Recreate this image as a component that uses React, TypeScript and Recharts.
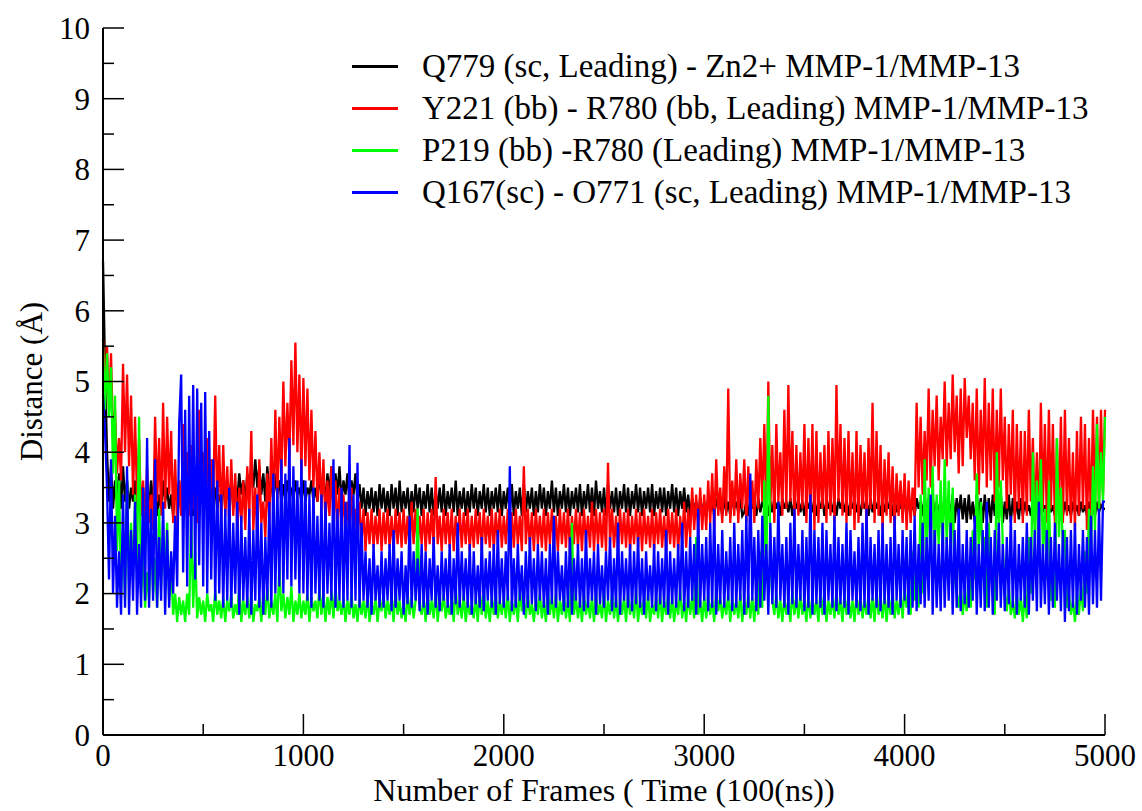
import { LineChart, Line, XAxis, YAxis } from 'recharts'

const SERIF = "'Liberation Serif', 'Times New Roman', Tinos, Times, 'DejaVu Serif', 'Noto Serif', serif"

// distance (Å) sampled every 10 frames, 0..5000 (20 values per row = 200 frames)
const q779Zn = [
  6.7, 5.2, 4.0, 3.3, 3.8, 3.2, 3.6, 3.3, 3.7, 3.2, 3.8, 3.3, 3.6, 3.2, 3.5, 3.3, 3.6, 3.2, 3.5, 3.3,
  3.5, 3.1, 3.4, 3.2, 3.6, 3.3, 3.5, 3.1, 3.4, 3.2, 3.6, 3.3, 3.5, 3.2, 3.4, 3.1, 3.5, 3.3, 3.6, 3.2,
  3.4, 3.2, 3.6, 3.3, 3.5, 3.1, 3.4, 3.2, 3.6, 3.3, 3.5, 3.2, 3.4, 3.1, 3.6, 3.3, 3.5, 3.2, 3.4, 3.3,
  3.6, 3.2, 3.5, 3.3, 3.6, 3.2, 3.5, 3.3, 3.7, 3.4, 3.6, 3.3, 3.7, 3.4, 3.8, 3.5, 3.9, 3.5, 3.8, 3.4,
  3.7, 3.3, 3.8, 3.4, 3.6, 3.3, 3.7, 3.4, 3.6, 3.3, 3.55, 3.3, 3.6, 3.4, 3.5, 3.3, 3.6, 3.4, 3.5, 3.3,
  3.6, 3.3, 3.5, 3.4, 3.6, 3.3, 3.5, 3.3, 3.7, 3.4, 3.6, 3.3, 3.7, 3.4, 3.8, 3.3, 3.7, 3.4, 3.8, 3.3,
  3.6, 3.4, 3.7, 3.3, 3.6, 3.4, 3.7, 3.3, 3.55, 3.2, 3.5, 3.1, 3.45, 3.2, 3.5, 3.15, 3.45, 3.1, 3.55, 3.2,
  3.5, 3.15, 3.45, 3.1, 3.55, 3.2, 3.5, 3.1, 3.6, 3.15, 3.45, 3.2, 3.5, 3.1, 3.45, 3.15, 3.55, 3.2, 3.5, 3.1,
  3.45, 3.2, 3.55, 3.15, 3.5, 3.1, 3.45, 3.2, 3.5, 3.15, 3.55, 3.1, 3.45, 3.2, 3.5, 3.15, 3.6, 3.1, 3.45, 3.2,
  3.5, 3.1, 3.45, 3.15, 3.55, 3.2, 3.5, 3.1, 3.45, 3.2, 3.55, 3.15, 3.5, 3.1, 3.45, 3.2, 3.5, 3.15, 3.55, 3.1,
  3.45, 3.2, 3.5, 3.15, 3.55, 3.1, 3.45, 3.2, 3.5, 3.1, 3.55, 3.15, 3.45, 3.2, 3.5, 3.1, 3.45, 3.15, 3.55, 3.2,
  3.5, 3.1, 3.45, 3.2, 3.6, 3.15, 3.5, 3.1, 3.45, 3.2, 3.55, 3.15, 3.5, 3.1, 3.45, 3.2, 3.5, 3.15, 3.55, 3.1,
  3.45, 3.2, 3.55, 3.15, 3.5, 3.1, 3.6, 3.2, 3.45, 3.15, 3.5, 3.1, 3.55, 3.2, 3.45, 3.15, 3.5, 3.1, 3.45, 3.2,
  3.55, 3.15, 3.5, 3.1, 3.45, 3.2, 3.55, 3.15, 3.5, 3.1, 3.45, 3.2, 3.5, 3.15, 3.55, 3.1, 3.45, 3.2, 3.5, 3.15,
  3.5, 3.1, 3.45, 3.2, 3.55, 3.15, 3.5, 3.1, 3.45, 3.2, 3.5, 3.15, 3.4, 3.1, 3.35, 3.2, 3.3, 3.1, 3.35, 3.15,
  3.3, 3.1, 3.35, 3.15, 3.3, 3.1, 3.35, 3.2, 3.3, 3.1, 3.35, 3.15, 3.3, 3.1, 3.35, 3.2, 3.3, 3.15, 3.35, 3.1,
  3.15, 3.3, 3.1, 3.35, 3.2, 3.3, 3.1, 3.35, 3.15, 3.3, 3.2, 3.35, 3.1, 3.3, 3.15, 3.35, 3.2, 3.3, 3.1, 3.35,
  3.2, 3.3, 3.15, 3.35, 3.1, 3.3, 3.2, 3.35, 3.15, 3.3, 3.1, 3.35, 3.2, 3.3, 3.15, 3.35, 3.1, 3.3, 3.2, 3.35,
  3.1, 3.3, 3.2, 3.35, 3.15, 3.3, 3.1, 3.35, 3.2, 3.3, 3.15, 3.35, 3.1, 3.3, 3.2, 3.35, 3.15, 3.3, 3.1, 3.35,
  3.2, 3.3, 3.1, 3.35, 3.15, 3.3, 3.2, 3.35, 3.1, 3.3, 3.15, 3.35, 3.2, 3.3, 3.1, 3.35, 3.15, 3.3, 3.2, 3.35,
  3.3, 3.1, 3.35, 3.15, 3.3, 3.1, 3.35, 3.2, 3.3, 3.1, 3.4, 3.05, 3.35, 3.1, 3.4, 3.05, 3.3, 3.1, 3.35, 3.0,
  3.4, 3.0, 3.35, 3.05, 3.4, 3.0, 3.35, 3.1, 3.4, 3.05, 3.35, 3.0, 3.4, 3.05, 3.3, 3.0, 3.4, 3.1, 3.35, 3.0,
  3.4, 3.05, 3.35, 3.0, 3.4, 3.1, 3.35, 3.05, 3.4, 3.0, 3.3, 3.05, 3.4, 3.0, 3.35, 3.1, 3.3, 3.05, 3.35, 3.1,
  3.3, 3.15, 3.25, 3.1, 3.3, 3.15, 3.25, 3.1, 3.3, 3.15, 3.25, 3.1, 3.3, 3.15, 3.25, 3.1, 3.3, 3.15, 3.25, 3.1,
  3.3, 3.15, 3.25, 3.1, 3.3, 3.15, 3.25, 3.1, 3.3, 3.15, 3.25, 3.1, 3.3, 3.15, 3.25, 3.1, 3.3, 3.15, 3.25, 3.2,
  3.2,
]

const y221R780 = [
  5.6, 5.0, 5.5, 4.6, 5.4, 4.2, 4.6, 3.7, 4.2, 3.6, 5.25, 4.0, 5.1, 3.8, 4.8, 3.4, 4.5, 3.3, 4.2, 3.1,
  3.6, 2.9, 3.8, 3.0, 3.4, 2.9, 4.5, 3.3, 4.2, 3.1, 4.7, 3.2, 4.5, 3.4, 4.3, 3.0, 3.9, 2.9, 3.6, 3.1,
  4.4, 3.3, 4.0, 3.1, 4.1, 3.2, 3.8, 3.0, 4.6, 3.4, 4.0, 3.3, 4.2, 3.1, 3.9, 3.3, 4.8, 3.2, 4.1, 3.0,
  4.1, 3.1, 3.8, 3.0, 3.9, 3.1, 3.7, 2.9, 3.5, 3.0, 3.6, 2.9, 3.8, 3.1, 4.3, 2.9, 3.5, 2.8, 3.9, 3.0,
  3.3, 2.8, 3.7, 3.0, 4.2, 3.1, 4.6, 3.3, 4.5, 3.6, 5.0, 3.8, 4.7, 3.9, 5.3, 4.1, 5.55, 4.0, 5.1, 3.7,
  5.05, 3.8, 4.9, 3.6, 4.6, 3.5, 4.3, 3.3, 4.0, 3.2, 3.9, 3.0, 3.6, 3.1, 3.8, 3.0, 3.6, 2.9, 3.5, 3.0,
  3.4, 2.8, 3.3, 2.9, 3.5, 2.8, 3.2, 2.9, 3.3, 2.7, 3.2, 2.6, 3.15, 2.7, 3.2, 2.65, 3.1, 2.7, 3.2, 2.6,
  3.15, 2.7, 3.2, 2.65, 3.1, 2.6, 3.2, 2.7, 3.15, 2.65, 3.2, 2.7, 3.1, 2.6, 3.3, 2.7, 3.2, 2.65, 3.1, 2.7,
  3.2, 2.6, 3.15, 2.7, 3.2, 2.65, 3.65, 2.7, 3.1, 2.6, 3.2, 2.7, 3.15, 2.65, 3.2, 2.6, 3.1, 2.7, 3.2, 2.65,
  3.15, 2.7, 3.2, 2.6, 3.1, 2.65, 3.2, 2.7, 3.15, 2.6, 3.2, 2.7, 3.1, 2.65, 3.2, 2.6, 3.15, 2.7, 3.2, 2.65,
  3.1, 2.7, 3.2, 2.6, 3.15, 2.65, 3.2, 2.7, 3.1, 2.6, 3.8, 2.7, 3.2, 2.65, 3.15, 2.6, 3.2, 2.7, 3.1, 2.65,
  3.2, 2.6, 3.15, 2.7, 3.2, 2.65, 3.1, 2.6, 3.2, 2.7, 3.15, 2.65, 3.2, 2.6, 3.1, 2.7, 3.2, 2.65, 3.15, 2.6,
  3.2, 2.7, 3.1, 2.65, 3.3, 2.6, 3.2, 2.7, 3.15, 2.65, 3.2, 2.6, 3.85, 2.7, 3.2, 2.65, 3.1, 2.6, 3.2, 2.7,
  3.15, 2.65, 3.2, 2.6, 3.1, 2.7, 3.2, 2.65, 3.15, 2.6, 3.2, 2.7, 3.1, 2.65, 3.2, 2.6, 3.15, 2.7, 3.2, 2.65,
  3.1, 2.6, 3.2, 2.7, 3.15, 2.65, 3.2, 2.6, 3.1, 2.7, 3.3, 2.65, 3.2, 2.8, 3.5, 2.9, 3.4, 2.85, 3.5, 2.9,
  3.4, 2.9, 3.6, 3.0, 3.7, 2.9, 3.9, 3.1, 3.5, 3.0, 3.8, 3.1, 4.9, 3.0, 3.6, 3.1, 3.9, 3.0, 3.7, 3.2,
  3.9, 3.0, 3.8, 3.1, 3.6, 3.0, 3.9, 3.2, 4.2, 3.3, 4.4, 3.1, 5.0, 3.2, 4.1, 3.0, 4.4, 3.3, 4.0, 3.1,
  4.6, 3.2, 4.95, 3.3, 4.3, 3.0, 4.1, 3.1, 4.0, 3.2, 4.4, 3.0, 4.2, 3.1, 4.4, 2.9, 4.3, 3.0, 4.0, 3.2,
  4.1, 3.0, 4.3, 3.1, 4.2, 3.0, 4.95, 3.3, 4.4, 3.1, 4.2, 3.0, 4.3, 3.1, 4.0, 2.9, 4.3, 3.0, 4.1, 3.2,
  4.0, 2.9, 4.2, 3.2, 4.7, 3.0, 4.3, 3.1, 4.1, 2.9, 3.9, 3.1, 4.0, 3.0, 3.8, 2.9, 3.7, 3.1, 3.6, 3.0,
  3.7, 2.9, 3.6, 3.0, 3.5, 3.1, 4.7, 3.5, 4.5, 3.4, 4.3, 3.6, 4.9, 3.5, 4.6, 3.8, 4.8, 3.6, 4.5, 3.9,
  5.0, 3.8, 4.7, 3.9, 5.1, 4.0, 4.8, 3.7, 4.9, 3.8, 5.05, 4.2, 4.8, 3.9, 4.7, 3.6, 4.9, 3.4, 4.6, 3.7,
  5.05, 3.5, 4.7, 3.6, 4.9, 3.3, 4.6, 3.5, 4.9, 3.6, 4.5, 3.2, 4.4, 3.4, 4.6, 3.0, 4.4, 3.2, 4.3, 3.0,
  4.3, 3.1, 4.6, 3.3, 4.2, 3.0, 4.0, 2.9, 4.7, 3.2, 4.4, 3.0, 4.6, 3.2, 4.4, 3.0, 4.2, 3.1, 4.5, 3.0,
  4.6, 3.1, 4.2, 3.0, 4.0, 2.9, 4.3, 3.1, 4.5, 3.2, 4.4, 2.9, 4.2, 3.0, 4.6, 3.3, 4.5, 3.2, 4.6, 3.4,
  4.6,
]

const p219R780 = [
  5.5, 4.6, 5.4, 4.5, 5.2, 3.7, 4.8, 2.6, 3.6, 2.0, 2.9, 1.9, 3.6, 2.1, 3.0, 2.2, 3.4, 2.4, 4.5, 2.0,
  2.6, 1.8, 2.3, 1.9, 2.9, 2.0, 2.5, 1.8, 3.2, 2.1, 2.8, 2.2, 3.0, 1.9, 2.4, 1.7, 2.0, 1.6, 1.95, 1.7,
  1.9, 1.6, 2.0, 1.7, 3.1, 1.8, 2.6, 1.65, 1.95, 1.7, 1.9, 1.6, 2.0, 1.75, 1.85, 1.6, 2.05, 1.7, 1.9, 1.65,
  1.95, 1.6, 1.9, 1.75, 2.0, 1.65, 1.85, 1.7, 2.1, 1.6, 1.9, 1.7, 1.95, 1.65, 2.0, 1.6, 1.85, 1.75, 1.95, 1.6,
  2.0, 1.7, 2.1, 1.65, 1.9, 1.7, 2.0, 1.6, 2.4, 1.75, 2.0, 1.65, 1.95, 1.7, 2.1, 1.6, 1.9, 1.7, 2.0, 1.65,
  1.9, 1.7, 2.0, 1.6, 1.95, 1.75, 1.9, 1.65, 2.1, 1.7, 2.0, 1.6, 1.95, 1.7, 2.05, 1.65, 2.1, 1.75, 1.9, 1.7,
  1.95, 1.6, 1.9, 1.7, 2.0, 1.65, 1.85, 1.6, 1.95, 1.7, 1.9, 1.65, 2.0, 1.6, 1.85, 1.7, 1.95, 1.6, 1.9, 1.75,
  2.0, 1.65, 1.9, 1.7, 1.95, 1.6, 2.05, 1.7, 1.9, 1.65, 1.85, 1.6, 2.0, 1.7, 1.95, 1.65, 1.9, 3.2, 1.8, 1.7,
  1.95, 1.6, 2.0, 1.7, 1.9, 1.65, 2.05, 1.6, 1.9, 1.75, 2.0, 1.65, 1.85, 1.7, 1.95, 1.6, 2.1, 1.7, 1.9, 1.65,
  2.0, 1.6, 1.9, 1.7, 1.85, 1.65, 1.95, 1.6, 2.0, 1.7, 2.1, 1.65, 1.9, 1.6, 1.95, 1.7, 2.0, 1.65, 1.9, 1.7,
  1.95, 1.65, 2.0, 1.6, 1.9, 1.7, 1.95, 1.6, 2.05, 1.75, 1.9, 1.65, 2.0, 1.7, 1.85, 1.6, 1.95, 1.7, 2.0, 1.65,
  1.9, 1.6, 2.05, 1.7, 1.95, 1.65, 2.0, 1.6, 1.9, 1.7, 2.0, 1.65, 1.9, 1.6, 3.0, 1.7, 1.95, 1.65, 1.9, 1.6,
  2.0, 1.7, 1.9, 1.65, 1.95, 1.6, 2.0, 1.7, 1.85, 1.65, 2.05, 1.6, 1.9, 1.7, 2.0, 1.65, 1.95, 1.6, 1.9, 1.7,
  1.95, 1.6, 2.0, 1.7, 1.9, 1.65, 2.05, 1.6, 1.9, 1.7, 1.95, 1.65, 2.0, 1.6, 1.85, 1.7, 1.95, 1.65, 2.0, 1.6,
  1.9, 1.7, 2.0, 1.65, 1.95, 1.6, 1.9, 1.7, 2.05, 1.65, 1.9, 1.6, 2.0, 1.7, 1.95, 1.65, 2.8, 1.7, 1.9, 1.6,
  1.95, 1.65, 2.0, 1.7, 1.9, 1.6, 2.05, 1.75, 1.95, 1.65, 1.9, 1.7, 2.0, 1.6, 1.95, 1.7, 1.9, 1.65, 2.0, 1.6,
  1.9, 1.7, 2.0, 1.65, 1.95, 1.6, 2.0, 1.7, 2.6, 1.8, 3.6, 2.2, 4.8, 2.6, 1.9, 1.7, 2.0, 1.65, 1.9, 1.6,
  1.95, 1.7, 1.9, 1.6, 2.05, 1.7, 1.95, 1.65, 2.0, 1.7, 1.9, 1.6, 2.0, 1.65, 1.95, 1.7, 1.9, 1.6, 2.05, 1.7,
  2.0, 1.6, 1.9, 1.7, 1.95, 1.65, 2.05, 1.7, 1.9, 1.6, 2.0, 1.7, 1.95, 1.65, 1.9, 1.6, 2.0, 1.7, 1.95, 1.65,
  1.9, 1.7, 2.0, 1.65, 1.95, 1.6, 2.05, 1.7, 1.9, 1.65, 2.0, 1.6, 1.95, 1.7, 2.05, 1.65, 1.9, 1.7, 2.0, 1.65,
  2.1, 1.8, 1.9, 1.7, 2.6, 1.9, 2.2, 1.8, 3.4, 2.0, 3.9, 2.6, 3.5, 2.6, 3.8, 2.5, 3.4, 2.7, 3.6, 2.5,
  3.9, 2.7, 3.6, 2.6, 3.5, 2.2, 2.0, 1.8, 2.1, 1.7, 2.0, 1.75, 2.3, 1.8, 2.9, 2.2, 3.7, 2.6, 3.3, 2.5,
  2.8, 1.8, 3.0, 2.2, 2.4, 1.7, 4.0, 2.9, 3.6, 2.7, 2.0, 1.75, 2.1, 1.7, 1.9, 1.65, 2.0, 1.7, 1.95, 1.6,
  2.0, 1.65, 2.8, 2.0, 4.0, 2.7, 3.6, 2.8, 3.9, 2.6, 3.2, 2.2, 3.6, 1.9, 2.0, 1.8, 4.2, 2.8, 3.5, 2.6,
  2.9, 1.8, 2.0, 1.7, 1.9, 1.6, 2.0, 1.7, 2.1, 1.75, 2.6, 2.0, 3.2, 2.5, 3.8, 2.9, 4.4, 3.2, 4.0, 3.3,
  4.5,
]

const q167O771 = [
  4.8, 4.3, 3.5, 2.2, 3.9, 2.0, 3.1, 1.8, 2.6, 1.7, 3.4, 1.8, 3.8, 1.7, 2.9, 1.9, 3.3, 1.7, 2.7, 1.8,
  3.5, 1.9, 4.2, 1.8, 3.2, 1.9, 3.9, 1.8, 2.8, 1.9, 3.3, 1.7, 2.9, 1.8, 2.6, 2.0, 3.1, 2.1, 4.4, 5.1,
  2.3, 4.6, 2.1, 4.8, 2.5, 4.95, 2.2, 4.9, 2.4, 4.7, 2.1, 4.85, 2.0, 4.3, 2.2, 3.9, 1.9, 3.6, 2.0, 3.4,
  1.8, 3.2, 1.9, 3.5, 1.8, 3.0, 2.0, 3.3, 1.7, 3.1, 1.9, 2.8, 1.8, 3.2, 1.7, 2.9, 1.9, 3.4, 1.8, 3.0,
  1.7, 2.8, 1.9, 3.3, 1.8, 3.7, 2.0, 3.5, 2.1, 3.9, 2.0, 3.7, 2.2, 4.2, 2.1, 3.8, 2.2, 3.6, 2.0, 3.9,
  2.0, 3.6, 1.9, 3.4, 1.8, 3.5, 2.0, 3.1, 1.9, 3.4, 1.8, 3.3, 2.0, 3.0, 1.9, 3.9, 1.8, 3.2, 1.9, 3.5,
  1.8, 3.3, 1.9, 4.1, 1.8, 3.4, 1.9, 3.85, 1.8, 3.0, 1.9, 2.6, 1.8, 2.5, 1.7, 2.7, 1.9, 2.4, 1.8, 2.6,
  1.8, 2.5, 1.9, 2.7, 1.75, 2.9, 1.8, 2.5, 1.9, 2.6, 1.7, 2.4, 1.85, 3.1, 1.8, 2.6, 1.9, 2.5, 1.75, 2.7,
  1.8, 2.6, 1.7, 2.5, 1.9, 2.8, 1.8, 2.4, 1.75, 2.6, 1.9, 2.5, 1.8, 2.7, 1.7, 2.5, 1.85, 3.0, 1.8, 2.6,
  1.9, 2.5, 1.8, 2.7, 1.7, 2.6, 1.85, 2.4, 1.8, 2.8, 1.75, 2.5, 1.9, 2.6, 1.8, 2.7, 1.7, 2.9, 1.85, 2.5,
  1.8, 2.6, 1.9, 3.8, 1.75, 2.5, 1.8, 2.7, 1.9, 2.4, 1.7, 2.6, 1.8, 2.8, 1.85, 2.5, 1.75, 2.7, 1.9, 2.6,
  1.8, 2.5, 1.7, 2.7, 1.85, 3.1, 1.8, 2.6, 1.9, 2.4, 1.75, 2.6, 1.8, 2.8, 1.7, 2.5, 1.9, 2.7, 1.8, 2.5,
  1.75, 2.9, 1.8, 2.5, 1.9, 2.6, 1.7, 2.7, 1.85, 2.4, 1.8, 2.6, 1.9, 2.8, 1.75, 2.5, 1.8, 3.0, 1.7, 2.6,
  1.9, 2.5, 1.8, 2.7, 1.75, 2.6, 1.85, 2.8, 1.8, 2.5, 1.7, 2.6, 1.9, 2.4, 1.8, 2.7, 1.75, 2.6, 1.85, 2.5,
  1.8, 2.9, 1.7, 2.6, 1.85, 2.5, 1.8, 2.7, 1.9, 3.0, 1.75, 2.6, 1.8, 2.8, 1.9, 2.7, 1.7, 3.2, 1.8, 2.7,
  1.9, 2.8, 1.75, 3.0, 1.8, 3.2, 1.7, 2.7, 1.85, 2.9, 1.8, 2.6, 1.9, 2.8, 1.75, 3.0, 1.8, 2.7, 1.9, 2.9,
  1.7, 3.1, 1.8, 3.7, 1.9, 2.8, 1.75, 2.9, 1.8, 3.1, 1.9, 2.7, 1.7, 3.0, 1.85, 2.8, 1.8, 3.3, 1.9, 2.7,
  1.8, 2.8, 1.7, 3.0, 1.85, 3.2, 1.8, 2.7, 1.9, 2.9, 1.75, 2.8, 1.8, 3.4, 1.7, 2.9, 1.85, 2.8, 1.8, 3.0,
  1.7, 2.9, 1.9, 2.7, 1.8, 3.1, 1.75, 2.8, 1.85, 2.7, 1.8, 3.0, 1.7, 2.9, 1.9, 2.6, 1.8, 2.8, 1.75, 3.0,
  1.8, 3.2, 1.7, 2.8, 1.9, 2.7, 1.8, 2.9, 1.75, 3.0, 1.85, 2.7, 1.8, 2.8, 1.7, 3.1, 1.9, 2.7, 1.8, 2.9,
  1.9, 2.8, 1.7, 2.9, 1.8, 3.1, 1.75, 2.7, 1.85, 3.0, 1.8, 2.8, 1.9, 3.4, 1.7, 2.9, 1.8, 2.7, 1.75, 3.0,
  1.8, 2.8, 1.9, 3.0, 1.7, 2.9, 1.8, 3.2, 1.75, 2.7, 1.85, 2.9, 1.8, 2.8, 1.9, 3.1, 1.7, 2.7, 1.8, 2.9,
  1.75, 3.3, 1.8, 2.8, 1.7, 2.9, 1.9, 3.0, 1.8, 2.7, 1.75, 2.8, 1.85, 3.1, 1.8, 2.9, 1.7, 2.7, 1.9, 2.8,
  1.8, 3.0, 1.7, 2.8, 1.9, 2.9, 1.75, 3.3, 1.8, 2.7, 1.85, 2.9, 1.7, 2.8, 1.8, 3.0, 1.9, 2.7, 1.75, 2.9,
  1.6, 2.8, 1.75, 2.9, 1.8, 3.0, 1.7, 2.7, 1.9, 2.9, 1.8, 2.8, 1.7, 3.1, 1.85, 2.9, 1.8, 3.2, 1.9, 3.3,
  3.3,
]

const frames = q779Zn.map((_, i) => i * 10)

const xMajorTicks = [0, 1000, 2000, 3000, 4000, 5000]
const xMinorTicks = [500, 1500, 2500, 3500, 4500]
const yMajorTicks = [0, 1, 2, 3, 4, 5, 6, 7, 8, 9, 10]
const yMinorTicks = [0.5, 1.5, 2.5, 3.5, 4.5, 5.5, 6.5, 7.5, 8.5, 9.5]

const series = [
  { key: 'q779', name: 'Q779 (sc, Leading) - Zn2+ MMP-1/MMP-13', color: '#000000' },
  { key: 'y221', name: 'Y221 (bb) - R780 (bb, Leading) MMP-1/MMP-13', color: '#ff0000' },
  { key: 'p219', name: 'P219 (bb) -R780 (Leading) MMP-1/MMP-13', color: '#00ff00' },
  { key: 'q167', name: 'Q167(sc) - O771 (sc, Leading) MMP-1/MMP-13', color: '#0000ff' },
]

const rows = frames.map((frame, i) => ({
  frame,
  q779: q779Zn[i],
  y221: y221R780[i],
  p219: p219R780[i],
  q167: q167O771[i],
}))

const xTicks = [...xMajorTicks, ...xMinorTicks].sort((a, b) => a - b)
const yTicks = [...yMajorTicks, ...yMinorTicks].sort((a, b) => a - b)

const MAJOR = 21
const MINOR = 11

// grace-style ticks: marks point into the frame, labels sit outside
function BottomTick({ x, y, payload }: any) {
  const major = xMajorTicks.includes(payload.value)
  return (
    <g>
      <line x1={x} y1={y} x2={x} y2={y - (major ? MAJOR : MINOR)} stroke="#000" strokeWidth={1.5} />
      {major && (
        <text x={x} y={y + 31} textAnchor="middle" fontSize={31} fontFamily={SERIF} fill="#000">
          {payload.value}
        </text>
      )}
    </g>
  )
}

function TopTick({ x, y, payload }: any) {
  const major = xMajorTicks.includes(payload.value)
  return <line x1={x} y1={y} x2={x} y2={y + (major ? MAJOR : MINOR)} stroke="#000" strokeWidth={1.5} />
}

function LeftTick({ x, y, payload }: any) {
  const major = yMajorTicks.includes(payload.value)
  return (
    <g>
      <line x1={x} y1={y} x2={x + (major ? MAJOR : MINOR)} y2={y} stroke="#000" strokeWidth={1.5} />
      {major && (
        <text x={x - 13} y={y} dy="0.35em" textAnchor="end" fontSize={31} fontFamily={SERIF} fill="#000">
          {payload.value}
        </text>
      )}
    </g>
  )
}

function RightTick({ x, y, payload }: any) {
  const major = yMajorTicks.includes(payload.value)
  return <line x1={x} y1={y} x2={x - (major ? MAJOR : MINOR)} y2={y} stroke="#000" strokeWidth={1.5} />
}

const frameLine = { stroke: '#000', strokeWidth: 2 }

export default function App() {
  return (
    <div style={{ position: 'absolute', left: 0, top: 0, width: 1142, height: 811, background: '#fff', fontFamily: SERIF }}>
      <LineChart width={1142} height={811} data={rows} margin={{ top: 28, right: 37, bottom: 0, left: 0 }}>
        <XAxis
          dataKey="frame"
          type="number"
          domain={[0, 5000]}
          ticks={xTicks}
          interval={0}
          height={76}
          axisLine={frameLine}
          tickLine={false}
          tickSize={0}
          tickMargin={0}
          tick={BottomTick}
          label={{
            value: 'Number of Frames ( Time (100(ns))',
            position: 'insideBottom',
            offset: 10,
            style: { fontSize: 32, fontFamily: SERIF, fill: '#000' },
          }}
        />
        <XAxis
          xAxisId="top"
          orientation="top"
          dataKey="frame"
          type="number"
          domain={[0, 5000]}
          ticks={xTicks}
          interval={0}
          height={0}
          axisLine={frameLine}
          tickLine={false}
          tickSize={0}
          tickMargin={0}
          tick={TopTick}
        />
        <YAxis
          type="number"
          domain={[0, 10]}
          ticks={yTicks}
          interval={0}
          width={103}
          axisLine={frameLine}
          tickLine={false}
          tickSize={0}
          tickMargin={0}
          tick={LeftTick}
          label={{
            value: 'Distance (Å)',
            angle: -90,
            position: 'insideLeft',
            offset: 31,
            style: { fontSize: 31, fontFamily: SERIF, fill: '#000', textAnchor: 'middle' },
          }}
        />
        <YAxis
          yAxisId="right"
          orientation="right"
          type="number"
          domain={[0, 10]}
          ticks={yTicks}
          interval={0}
          width={0}
          axisLine={frameLine}
          tickLine={false}
          tickSize={0}
          tickMargin={0}
          tick={RightTick}
        />
        {series.map((s) => (
          <Line
            key={s.key}
            type="linear"
            dataKey={s.key}
            name={s.name}
            stroke={s.color}
            strokeWidth={2.3}
            dot={false}
            activeDot={false}
            isAnimationActive={false}
          />
        ))}
      </LineChart>
      {series.map((s, i) => (
        <div
          key={s.key}
          style={{ position: 'absolute', left: 352, top: 46 + i * 42, height: 40, display: 'flex', alignItems: 'center' }}
        >
          <div style={{ width: 46, height: 3, background: s.color }} />
          <span style={{ marginLeft: 24, fontSize: 33, fontFamily: SERIF, color: '#000', whiteSpace: 'nowrap', lineHeight: '40px' }}>
            {s.name}
          </span>
        </div>
      ))}
    </div>
  )
}
